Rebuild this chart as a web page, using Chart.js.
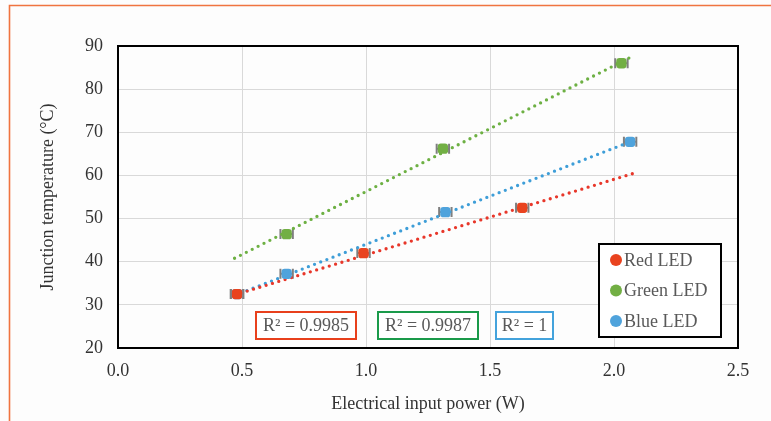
<!DOCTYPE html>
<html>
<head>
<meta charset="utf-8">
<script src="https://cdn.jsdelivr.net/npm/chart.js@4"></script>
<style>
  html, body { margin: 0; padding: 0; background: #fdfdfd; }
  #wrap { position: relative; width: 771px; height: 421px; }
</style>
</head>
<body>
<div id="wrap"><canvas id="c" width="771" height="421"></canvas></div>
<script>
// ---- data ----
const seriesNames = ['Red LED', 'Green LED', 'Blue LED'];
const redPower   = [0.48, 0.99, 1.63];
const redTemp    = [32.5, 42.0, 52.5];
const greenPower = [0.68, 1.31, 2.03];
const greenTemp  = [46.4, 66.2, 86.0];
const bluePower  = [0.48, 0.68, 1.32, 2.065];
const blueTemp   = [32.5, 37.2, 51.5, 67.8];
const powerError = 0.025;
const redTrendX   = [0.47, 2.08];
const redTrendY   = [32.3, 60.5];
const greenTrendX = [0.47, 2.06];
const greenTrendY = [40.8, 87.2];
const blueTrendX  = [0.47, 2.07];
const blueTrendY  = [32.2, 67.9];
const rSquaredLabels = ['R² = 0.9985', 'R² = 0.9987', 'R² = 1'];
const xTickValues = [0.0, 0.5, 1.0, 1.5, 2.0, 2.5];
const yTickValues = [20, 30, 40, 50, 60, 70, 80, 90];
const xTitle = 'Electrical input power (W)';
const yTitle = 'Junction temperature (°C)';

// ---- styles ----
const markerColors = ['#e9431f', '#72af44', '#4fa3dc'];
const trendColors  = ['#e8372a', '#6db043', '#3e9ed8'];
const rBoxColors   = ['#e8401c', '#1a9a4a', '#44a3dc'];
const FONT = '"Liberation Serif", "Times New Roman", serif';

const pts = (xs, ys) => xs.map((x, i) => ({ x: x, y: ys[i] }));

const pointSets = [pts(redPower, redTemp), pts(greenPower, greenTemp), pts(bluePower, blueTemp)];
const trendSets = [pts(redTrendX, redTrendY), pts(greenTrendX, greenTrendY), pts(blueTrendX, blueTrendY)];

const datasets = [];
pointSets.forEach((d, i) => datasets.push({
  label: seriesNames[i], data: d, showLine: false, isPoints: true,
  pointStyle: 'rectRounded', pointRadius: 6, pointHoverRadius: 6,
  backgroundColor: markerColors[i], borderColor: markerColors[i], borderWidth: 0
}));
trendSets.forEach((d, i) => datasets.push({
  label: seriesNames[i] + ' trend', data: d, showLine: true, pointRadius: 0,
  borderColor: trendColors[i], borderWidth: 3.3, borderDash: [0, 6.6],
  borderCapStyle: 'round', fill: false
}));

const framePlugin = {
  id: 'frame',
  beforeDraw(chart) {
    const ctx = chart.ctx;
    ctx.save();
    ctx.fillStyle = '#fdfdfd';
    ctx.fillRect(0, 0, chart.width, chart.height);
    ctx.strokeStyle = '#f07440';
    ctx.lineWidth = 1.6;
    ctx.beginPath();
    ctx.moveTo(9.5, chart.height);
    ctx.lineTo(9.5, 5.5);
    ctx.lineTo(chart.width, 5.5);
    ctx.stroke();
    ctx.restore();
  },
  beforeDatasetsDraw(chart) {
    // horizontal error bars
    const ctx = chart.ctx, xs = chart.scales.x, ys = chart.scales.y;
    ctx.save();
    ctx.strokeStyle = '#7f7f7f';
    ctx.lineWidth = 2;
    chart.data.datasets.forEach(ds => {
      if (!ds.isPoints) return;
      ds.data.forEach(p => {
        const x1 = xs.getPixelForValue(p.x - powerError);
        const x2 = xs.getPixelForValue(p.x + powerError);
        const y = ys.getPixelForValue(p.y);
        ctx.beginPath();
        ctx.moveTo(x1, y); ctx.lineTo(x2, y);
        ctx.moveTo(x1, y - 5); ctx.lineTo(x1, y + 5);
        ctx.moveTo(x2, y - 5); ctx.lineTo(x2, y + 5);
        ctx.stroke();
      });
    });
    ctx.restore();
  },
  afterDraw(chart) {
    const ctx = chart.ctx, a = chart.chartArea;
    ctx.save();
    // plot border
    ctx.strokeStyle = '#000';
    ctx.lineWidth = 2;
    ctx.strokeRect(a.left, a.top, a.right - a.left, a.bottom - a.top);

    // R² boxes
    const boxes = [[256, 100], [378, 100], [496, 57]];
    ctx.font = '18px ' + FONT;
    ctx.textBaseline = 'middle';
    ctx.textAlign = 'center';
    rSquaredLabels.forEach((t, i) => {
      const [bx, bw] = boxes[i];
      const by = a.bottom - 36, bh = 27;
      ctx.fillStyle = '#ffffff';
      ctx.fillRect(bx, by, bw, bh);
      ctx.strokeStyle = rBoxColors[i];
      ctx.lineWidth = 2;
      ctx.strokeRect(bx, by, bw, bh);
      ctx.fillStyle = '#595959';
      ctx.fillText(t, bx + bw / 2, by + bh / 2 + 1);
    });

    // legend
    const lw = 122, lh = 93;
    const lx = a.right - 17 - lw, ly = a.bottom - 11 - lh;
    ctx.fillStyle = '#ffffff';
    ctx.fillRect(lx, ly, lw, lh);
    ctx.strokeStyle = '#000';
    ctx.lineWidth = 2;
    ctx.strokeRect(lx, ly, lw, lh);
    ctx.textAlign = 'left';
    chart.data.datasets.filter(d => d.isPoints).forEach((ds, i) => {
      const cy = ly + 16 + i * 30.5;
      ctx.fillStyle = ds.backgroundColor;
      ctx.beginPath();
      ctx.arc(lx + 17, cy, 6, 0, Math.PI * 2);
      ctx.fill();
      ctx.fillStyle = '#595959';
      ctx.fillText(ds.label, lx + 25, cy + 1);
    });
    ctx.restore();
  }
};

new Chart(document.getElementById('c'), {
  type: 'scatter',
  data: { datasets: datasets },
  plugins: [framePlugin],
  options: {
    responsive: false,
    animation: false,
    events: [],
    layout: { padding: { left: 0, right: 33, top: 46, bottom: 0 } },
    plugins: { legend: { display: false }, tooltip: { enabled: false } },
    scales: {
      x: {
        type: 'linear', min: 0, max: 2.5,
        afterBuildTicks(s) { s.ticks = xTickValues.map(v => ({ value: v })); },
        afterFit(s) { s.height = 73; },
        grid: { color: '#d9d9d9', lineWidth: 1, drawTicks: false },
        border: { display: false },
        ticks: { padding: 12, color: '#333', font: { family: FONT, size: 18 },
                 callback: v => Number(v).toFixed(1), maxRotation: 0 },
        title: { display: true, text: xTitle, color: '#333',
                 font: { family: FONT, size: 18 }, padding: { top: 0, bottom: 6 } }
      },
      y: {
        type: 'linear', min: 20, max: 90,
        afterBuildTicks(s) { s.ticks = yTickValues.map(v => ({ value: v })); },
        afterFit(s) { s.width = 118; },
        grid: { color: '#d9d9d9', lineWidth: 1, drawTicks: false },
        border: { display: false },
        ticks: { padding: 15, color: '#333', font: { family: FONT, size: 18 } },
        title: { display: true, text: yTitle, color: '#333',
                 font: { family: FONT, size: 18 }, padding: { top: 37, bottom: 0 } }
      }
    }
  }
});
</script>
</body>
</html>
